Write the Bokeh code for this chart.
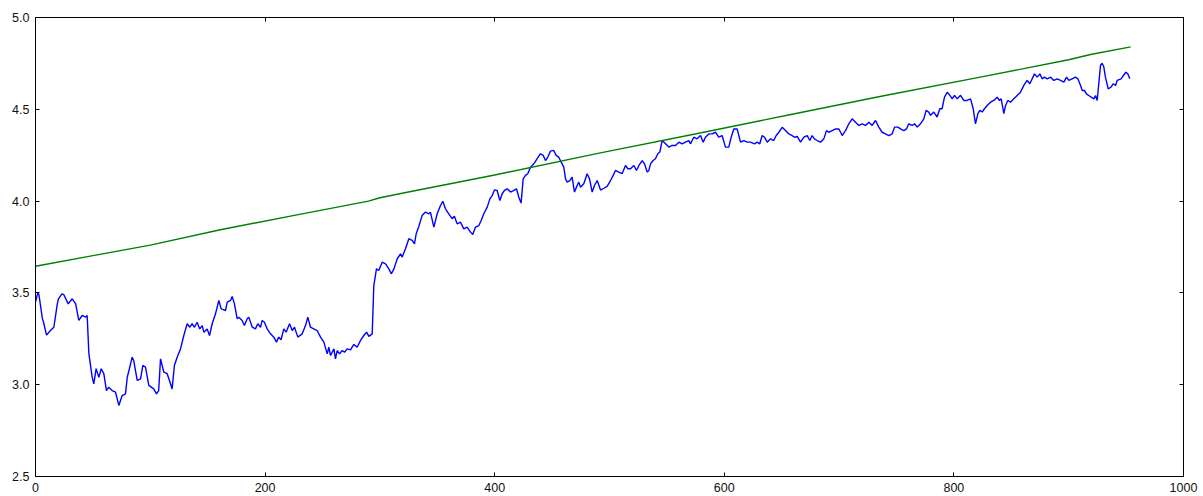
from bokeh.plotting import figure
from bokeh.models import Range1d, FixedTicker, PrintfTickFormatter, LinearAxis
from bokeh.embed import file_html
from bokeh.resources import INLINE

# Observed series (index, value)
price_x = [0, 2, 3, 6, 7, 9.6, 13, 16, 19, 20, 23, 24.7, 28.5, 32, 35, 37.7, 40.7, 43.6, 45,
           46.5, 49.4, 50.8, 52.8, 55.2, 57.2, 59.5, 61.8, 63.7, 66.8, 69.7, 72.6, 75.5, 78.4,
           79.9, 81.8, 84.2, 85.6, 88.6, 91.5, 93.5, 95.8, 98.7, 103, 105.4, 107.3, 108.9,
           111.8, 114.7, 117.6, 119, 121, 123.4, 126.3, 129.2, 132.1, 134.4, 136.4, 138.5,
           140.8, 143.1, 145.2, 146.6, 149.5, 151.6, 153.9, 156.8, 159.7, 161.7, 163, 165.5,
           167, 169.9, 171.3, 173.3, 175.7, 177.1, 180, 182, 184.4, 185.8, 188.8, 191.6, 193.6,
           196, 197.4, 199.4, 201.8, 204.7, 207.6, 209.9, 211.9, 213.9, 216.3, 218.3, 221.3,
           223.6, 225.6, 228.5, 232.3, 235.2, 237.2, 239.5, 242.4, 245.3, 248.3, 251.2, 254.1,
           255.5, 257, 259.9, 261.3, 262.8, 264.8, 267.2, 269.2, 271.5, 274.4, 277.3, 280.2,
           283.1, 286, 288.4, 290.4, 293.3, 294.7, 297, 299, 302, 304.9, 307.8, 309.9, 312.2,
           315.1, 318, 319.4, 322.3, 325.2, 328.1, 330.1, 331.6, 333.9, 336.8, 339.7, 342.6,
           344, 347, 349.9, 352.8, 354.8, 357.1, 360, 362.9, 364.9, 367.3, 370.2, 373.1, 376,
           378.9, 380.9, 383.2, 386.2, 388.2, 390.5, 393.5, 395.8, 397.8, 399.8, 402.1, 404.5,
           406.5, 408.5, 410.9, 413.8, 416.7, 419, 421, 423, 424.8, 426.8, 428.8, 431.2, 434.1,
           437, 439.9, 442.2, 444.3, 446.3, 448.6, 451.5, 453.5, 455.8, 457.9, 460.2, 461.7,
           463.1, 465.4, 467.4, 469.5, 471.8, 473.3, 474.7, 477.6, 480.5, 482.6, 484.9, 486.9,
           489.3, 492.2, 495.1, 497.9, 500.9, 503.2, 505.2, 508.1, 511, 513.9, 516, 518.3,
           521.2, 523.5, 525.6, 528.5, 530.5, 532.8, 534.3, 535.7, 538, 540, 542.1, 543.8,
           545.9, 548.8, 551.7, 554.6, 557.5, 560.4, 563.3, 566.2, 569.1, 570.5, 573.4, 576.3,
           579.3, 581.6, 583.6, 586.5, 589.4, 592.3, 595.2, 598.1, 601, 603.9, 606, 608.3,
           611.2, 614.1, 617, 619.9, 622.8, 626.3, 628.6, 630.9, 633, 635, 637.4, 640.3, 643.1,
           645.2, 647.5, 650.4, 653.3, 656.2, 659.1, 661.2, 663.5, 666.4, 669.3, 672.2, 674.5,
           676.5, 678.5, 680.9, 683.8, 686.7, 689, 691, 694, 696.9, 699.8, 702.7, 705.6, 708.5,
           711.4, 714.3, 717.2, 720.1, 723, 725.9, 728.8, 731.7, 734.6, 737.5, 740.4, 743.3,
           746.2, 748.3, 751.2, 753.5, 756.4, 758.7, 760.7, 763.6, 765.7, 768, 770.9, 773.8,
           775.8, 778.1, 779.6, 782.5, 785.4, 787.7, 789.7, 791.8, 794.2, 796.5, 798.5, 800.5,
           802.9, 805.8, 808.6, 811.5, 814.5, 816.8, 818.8, 820.9, 822.6, 824.6, 826.6, 829,
           831.9, 834.8, 837.7, 839.7, 841.2, 843.5, 845, 847, 849.3, 852.2, 855.1, 858, 860.9,
           863.8, 866.2, 868.2, 870.2, 872.6, 874.9, 876.9, 878.9, 881.3, 884.2, 887.1, 890,
           892.9, 895.8, 898.1, 900.1, 903, 905.9, 908, 910.3, 911.8, 913.8, 915.5, 917.5,
           919.6, 921.9, 923.4, 924.8, 926.2, 927.7, 929.1, 930.6, 932, 934.4, 936.7, 938.7,
           940.8, 942.2, 945.6, 947.6, 949.8, 951.5, 953.2]
price_y = [3.45, 3.50, 3.49, 3.36, 3.34, 3.27, 3.295, 3.313, 3.44, 3.468, 3.495, 3.49, 3.44,
           3.468, 3.44, 3.35, 3.377, 3.368, 3.377, 3.168, 3.04, 3.005, 3.087, 3.04, 3.087,
           3.06, 2.968, 2.986, 2.968, 2.959, 2.887, 2.941, 2.95, 3.04, 3.087, 3.15, 3.13,
           3.023, 3.032, 3.105, 3.096, 2.996, 2.977, 2.95, 2.968, 3.141, 3.068, 3.06, 3.005,
           2.977, 3.105, 3.15, 3.195, 3.268, 3.332, 3.313, 3.332, 3.313, 3.34, 3.304, 3.322,
           3.286, 3.304, 3.268, 3.332, 3.386, 3.459, 3.414, 3.41, 3.404, 3.45, 3.459, 3.48,
           3.44, 3.359, 3.368, 3.35, 3.322, 3.359, 3.368, 3.313, 3.304, 3.332, 3.313, 3.35,
           3.34, 3.304, 3.277, 3.259, 3.232, 3.259, 3.245, 3.304, 3.286, 3.332, 3.295, 3.313,
           3.259, 3.277, 3.322, 3.368, 3.313, 3.304, 3.295, 3.259, 3.232, 3.168, 3.204, 3.159,
           3.195, 3.141, 3.186, 3.168, 3.186, 3.177, 3.195, 3.19, 3.219, 3.204, 3.241, 3.268,
           3.286, 3.263, 3.277, 3.54, 3.631, 3.622, 3.667, 3.658, 3.631, 3.604, 3.631, 3.686,
           3.713, 3.695, 3.74, 3.795, 3.786, 3.767, 3.822, 3.862, 3.922, 3.94, 3.931, 3.94,
           3.858, 3.931, 3.976, 3.999, 3.958, 3.931, 3.904, 3.917, 3.876, 3.885, 3.849, 3.858,
           3.831, 3.818, 3.858, 3.867, 3.894, 3.931, 3.967, 4.012, 4.03, 4.061, 4.058, 4.003,
           4.04, 4.058, 4.067, 4.049, 4.058, 4.067, 4.021, 3.989, 4.121, 4.14, 4.149, 4.185,
           4.203, 4.231, 4.258, 4.249, 4.221, 4.24, 4.272, 4.276, 4.249, 4.24, 4.212, 4.185,
           4.121, 4.103, 4.112, 4.131, 4.049, 4.085, 4.103, 4.076, 4.094, 4.149, 4.121, 4.049,
           4.085, 4.112, 4.06, 4.07, 4.08, 4.112, 4.14, 4.167, 4.158, 4.149, 4.194, 4.176,
           4.176, 4.194, 4.167, 4.194, 4.221, 4.203, 4.158, 4.167, 4.203, 4.221, 4.231, 4.258,
           4.267, 4.33, 4.312, 4.294, 4.303, 4.303, 4.321, 4.312, 4.321, 4.33, 4.312, 4.348,
           4.339, 4.357, 4.321, 4.348, 4.366, 4.366, 4.375, 4.348, 4.357, 4.294, 4.294, 4.348,
           4.393, 4.393, 4.321, 4.33, 4.321, 4.321, 4.312, 4.321, 4.312, 4.357, 4.348, 4.321,
           4.339, 4.33, 4.357, 4.375, 4.402, 4.384, 4.366, 4.357, 4.348, 4.352, 4.321, 4.348,
           4.357, 4.33, 4.357, 4.339, 4.33, 4.321, 4.339, 4.384, 4.375, 4.384, 4.393, 4.393,
           4.357, 4.384, 4.421, 4.448, 4.43, 4.412, 4.421, 4.412, 4.43, 4.412, 4.439, 4.403,
           4.375, 4.366, 4.357, 4.366, 4.403, 4.403, 4.393, 4.384, 4.393, 4.421, 4.412, 4.421,
           4.403, 4.421, 4.448, 4.494, 4.485, 4.467, 4.485, 4.458, 4.503, 4.503, 4.566, 4.593,
           4.576, 4.557, 4.576, 4.557, 4.576, 4.548, 4.548, 4.557, 4.503, 4.421, 4.476, 4.494,
           4.485, 4.503, 4.521, 4.539, 4.548, 4.566, 4.548, 4.557, 4.476, 4.521, 4.548, 4.539,
           4.557, 4.575, 4.593, 4.63, 4.657, 4.639, 4.666, 4.693, 4.675, 4.693, 4.666, 4.675,
           4.666, 4.675, 4.657, 4.666, 4.657, 4.648, 4.675, 4.657, 4.666, 4.675, 4.666, 4.63,
           4.602, 4.602, 4.584, 4.575, 4.566, 4.557, 4.575, 4.548, 4.639, 4.739, 4.751, 4.73,
           4.675, 4.611, 4.62, 4.639, 4.63, 4.657, 4.666, 4.684, 4.702, 4.693, 4.666]

trend_x = [0, 50, 100, 161, 230, 290, 300, 327, 400, 492, 580, 658, 740, 823, 900, 920, 954]
trend_y = [3.645, 3.703, 3.760, 3.844, 3.928, 4.000, 4.018, 4.052, 4.142, 4.263, 4.372,
           4.472, 4.575, 4.675, 4.770, 4.800, 4.840]

x_ticks = [0, 200, 400, 600, 800, 1000]
y_ticks = [2.5, 3.0, 3.5, 4.0, 4.5, 5.0]

p = figure(width=1203, height=496, output_backend="svg", toolbar_location=None,
           x_range=Range1d(0, 1000), y_range=Range1d(2.5, 5.0),
           min_border_left=35, min_border_right=20, min_border_top=17, min_border_bottom=20,
           background_fill_color="white", border_fill_color="white")
p.grid.visible = False
p.outline_line_color = "black"
p.outline_line_width = 1

p.line(price_x, price_y, line_color="#0000ff", line_width=1.4)
p.line(trend_x, trend_y, line_color="#008000", line_width=1.4)

# Mirror axes on top and right carry only inward ticks
p.add_layout(LinearAxis(), "above")
p.add_layout(LinearAxis(), "right")

for ax in p.xaxis:
    ax.ticker = FixedTicker(ticks=x_ticks)
    ax.formatter = PrintfTickFormatter(format="%d")
for ax in p.yaxis:
    ax.ticker = FixedTicker(ticks=y_ticks)
    ax.formatter = PrintfTickFormatter(format="%.1f")

for ax in list(p.xaxis) + list(p.yaxis):
    ax.axis_line_color = None
    ax.major_tick_in = 4
    ax.major_tick_out = 0
    ax.major_tick_line_color = "black"
    ax.minor_tick_line_color = None
    ax.major_label_text_font = "Liberation Sans"
    ax.major_label_text_font_size = "12.5px"
    ax.major_label_text_color = "#111111"
    ax.major_label_standoff = 6

for ax in (p.above[0], p.right[0]):
    ax.major_label_text_color = None
    ax.major_label_text_font_size = "1px"
    ax.major_label_standoff = 0

open("out.html", "w").write(file_html(p, INLINE))
